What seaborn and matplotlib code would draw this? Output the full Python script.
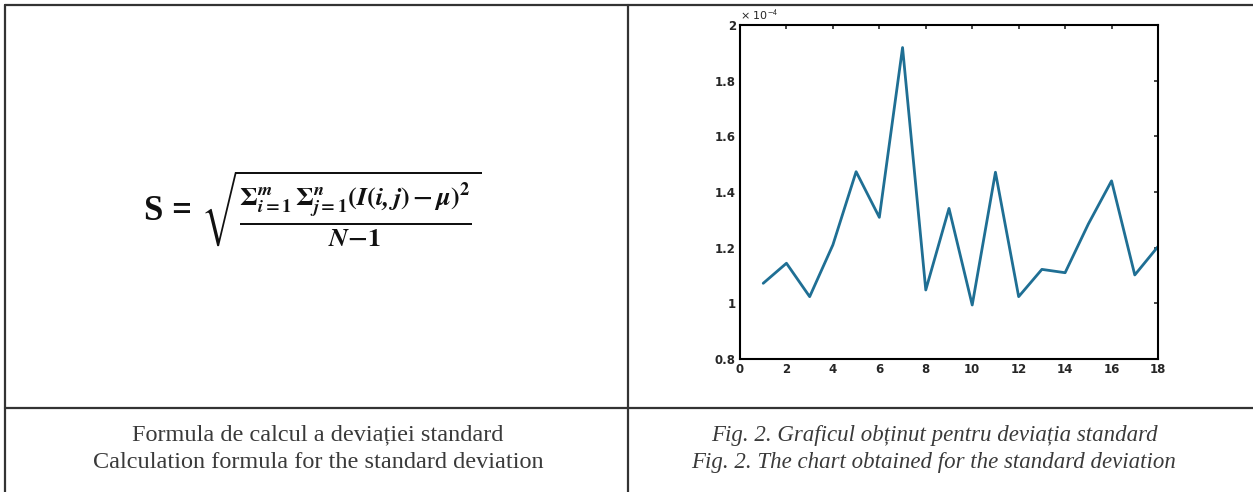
import matplotlib
matplotlib.use("Agg")
import matplotlib.pyplot as plt
import seaborn as sns
from matplotlib.lines import Line2D
from matplotlib.ticker import FuncFormatter

# --- data (valori x 1e-4) ---
image_idx = [1, 2, 3, 4, 5, 6, 7, 8, 9, 10, 11, 12, 13, 14, 15, 16, 17, 18]
std_dev = [1.072, 1.144, 1.024, 1.21, 1.473, 1.309, 1.919, 1.048, 1.341, 0.994,
           1.471, 1.024, 1.122, 1.110, 1.285, 1.440, 1.102, 1.204]
x_ticks = [0, 2, 4, 6, 8, 10, 12, 14, 16, 18]
y_ticks = [0.8, 1.0, 1.2, 1.4, 1.6, 1.8, 2.0]

caption_left = "Formula de calcul a deviației standard\nCalculation formula for the standard deviation"
caption_right = "Fig. 2. Graficul obținut pentru deviația standard\nFig. 2. The chart obtained for the standard deviation"

sns.set_style("white")
plt.rcParams["mathtext.fontset"] = "stix"

W, H = 1253, 492
fig = plt.figure(figsize=(W / 100, H / 100), dpi=100)


def fx(px):
    return px / W


def fy(py):
    return 1 - py / H


# --- table lines ---
lc = "#333333"
for x0, y0, x1, y1 in [(5, 5, 1253, 5), (5, 408, 1253, 408),
                       (5, 5, 5, 492), (628, 5, 628, 492)]:
    fig.add_artist(Line2D([fx(x0), fx(x1)], [fy(y0), fy(y1)], color=lc, lw=1.6))

# --- formula ---
fig.text(fx(144), fy(212), "S =", fontsize=25, fontweight="bold",
         family="Liberation Serif", va="center", ha="left", color="#111111")
formula = (r"$\sqrt{\frac{\mathbf{\Sigma}_{\mathbfit{i}\mathbf{=1}}^{\mathbfit{m}}\,"
           r"\mathbf{\Sigma}_{\mathbfit{j}\mathbf{=1}}^{\mathbfit{n}}"
           r"\mathbf{(}\mathbfit{I}\mathbf{(}\mathbfit{i,j}\mathbf{)-}\mathbfit{\mu}\mathbf{)}^{\mathbf{2}}}"
           r"{\mathbfit{N}\mathbf{-1}}}$")
fig.text(fx(201), fy(208), formula, fontsize=27, va="center", ha="left",
         color="#111111")

# --- chart ---
ax = fig.add_axes([fx(740), fy(359), fx(1158 - 740), (359 - 25) / H])
sns.lineplot(x=image_idx, y=std_dev, ax=ax, color="#1f6f94", lw=2)
ax.set_xlim(0, 18)
ax.set_ylim(0.8, 2.0)
ax.set_xticks(x_ticks)
ax.set_yticks(y_ticks)
ax.yaxis.set_major_formatter(FuncFormatter(lambda v, p: f"{v:g}"))
ax.tick_params(direction="in", length=3, width=1.2, labelsize=8.5,
               top=True, right=True, pad=3)
for lab in ax.get_xticklabels() + ax.get_yticklabels():
    lab.set_fontweight("bold")
for sp in ax.spines.values():
    sp.set_linewidth(1.5)
    sp.set_color("black")
ax.text(0.0, 1.005, "× 10$^{\\mathsf{-4}}$", transform=ax.transAxes,
        fontsize=8, ha="left", va="bottom", family="DejaVu Sans")

# --- captions ---
fig.text(fx(318), fy(449), caption_left, ha="center", va="center",
         family="Liberation Serif", fontsize=17.5, color="#3a3a3a", linespacing=1.4)
fig.text(fx(934), fy(449), caption_right, ha="center", va="center",
         family="Liberation Serif", style="italic", fontsize=16.5, color="#3a3a3a",
         linespacing=1.4)

fig.savefig("out.png", dpi=100)
